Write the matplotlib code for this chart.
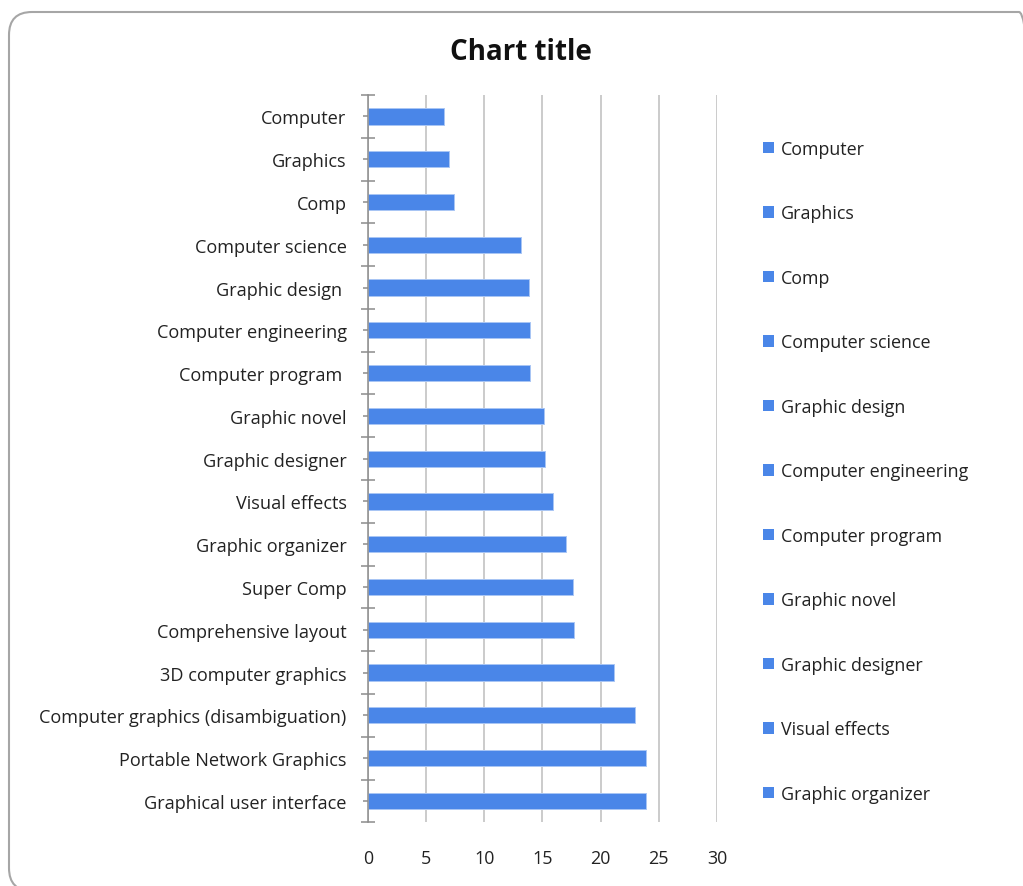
import matplotlib
matplotlib.use("Agg")
import matplotlib.pyplot as plt
import numpy as np
from matplotlib.patches import FancyBboxPatch, Patch
from matplotlib.transforms import IdentityTransform

# Category names, top to bottom
categories = [
    "Computer",
    "Graphics",
    "Comp",
    "Computer science",
    "Graphic design ",
    "Computer engineering",
    "Computer program ",
    "Graphic novel",
    "Graphic designer",
    "Visual effects",
    "Graphic organizer",
    "Super Comp",
    "Comprehensive layout",
    "3D computer graphics",
    "Computer graphics (disambiguation)",
    "Portable Network Graphics",
    "Graphical user interface",
]
values = [6.55, 6.95, 7.4, 13.2, 13.85, 13.95, 13.95, 15.1, 15.25, 15.9,
          17.0, 17.6, 17.7, 21.15, 22.95, 23.9, 23.9]
x_ticks = [0, 5, 10, 15, 20, 25, 30]
legend_entries = categories[:11]

BAR = "#4a86e8"
FONT = "Open Sans"
FS = 13.1

W, H, DPI = 1023, 887, 100
fig = plt.figure(figsize=(W / DPI, H / DPI), dpi=DPI)
fig.patch.set_facecolor("white")

# rounded chart frame
frame = FancyBboxPatch((9, -5), 1033, 874 + 5, boxstyle="round,pad=0,rounding_size=23",
                       transform=IdentityTransform(), facecolor="none",
                       edgecolor="#a6a6a6", linewidth=1.5, zorder=0)
fig.patches.append(frame)

left, right, top, bottom = 367.7, 717.0, 96.0, 823.3
ax = fig.add_axes([left / W, 1 - bottom / H, (right - left) / W, (bottom - top) / H])

y = np.arange(len(categories))
ax.barh(y, values, height=0.38, color=BAR, edgecolor="#a9c6f5", linewidth=0.7, zorder=3)

ax.set_xlim(0, 30)
ax.set_ylim(len(categories) - 0.5, -0.5)
ax.set_xticks(x_ticks)
ax.set_xticklabels([str(t) for t in x_ticks], fontsize=12.9, family=FONT, color="#222222")
ax.tick_params(axis="x", length=0, pad=19)

ax.set_yticks(y)
ax.set_yticklabels(categories, fontsize=FS, family=FONT, color="#222222")
ax.set_yticks(np.arange(len(categories) + 1) - 0.5, minor=True)
ax.tick_params(axis="y", which="major", direction="inout", length=7.5, width=1.1,
               color="#8c8c8c", pad=11.5)
ax.tick_params(axis="y", which="minor", direction="inout", length=10, width=1.1,
               color="#8c8c8c")

for s in ["top", "right", "bottom"]:
    ax.spines[s].set_visible(False)
ax.spines["left"].set_color("#8c8c8c")
ax.spines["left"].set_linewidth(1.1)
ax.spines["left"].set_zorder(4)

ax.grid(axis="x", color="#bdbdbd", linewidth=1.1, zorder=0)
ax.set_axisbelow(True)

fig.text(521 / W, 1 - 52 / H, "Chart title", ha="center", va="center",
         fontsize=20, fontweight="bold", family=FONT, color="#111111")

handles = [Patch(facecolor=BAR, edgecolor="none") for _ in legend_entries]
leg = fig.legend(handles, legend_entries, loc="upper left",
                 bbox_to_anchor=(763 / W, 1 - 141 / H), frameon=False,
                 prop={"family": FONT, "size": 12.9}, handlelength=0.62,
                 handleheight=0.62, handletextpad=0.38, labelspacing=2.595,
                 borderaxespad=0, borderpad=0)
for t in leg.get_texts():
    t.set_color("#222222")

fig.savefig("out.png", dpi=DPI, facecolor="white")
